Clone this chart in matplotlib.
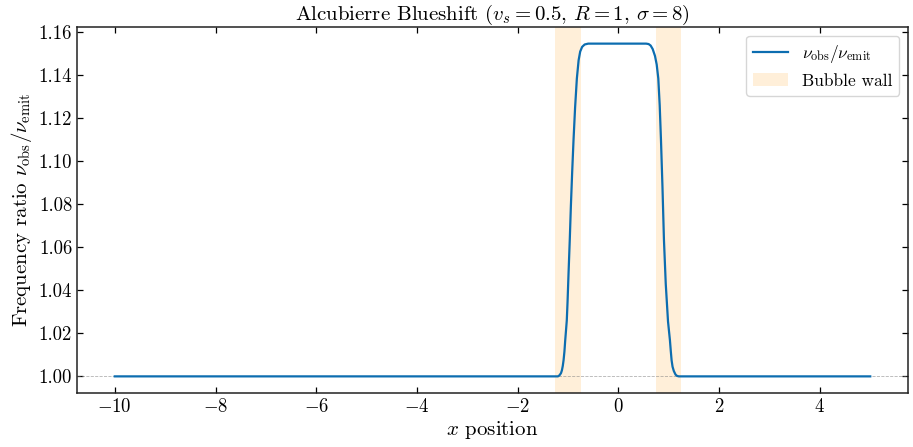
import matplotlib
matplotlib.use("Agg")
import matplotlib.pyplot as plt

plt.rcParams.update({
    "font.family": "serif",
    "font.serif": ["cmr10"],
    "mathtext.fontset": "cm",
    "axes.formatter.use_mathtext": True,
    "axes.unicode_minus": True,
})

# Data
x_pos = [-10.0, -1.30, -1.20, -1.17, -1.14, -1.122, -1.105, -1.089, -1.072, -1.056,
         -1.04, -1.025, -1.01, -0.99, -0.965, -0.944, -0.918, -0.891, -0.86,
         -0.825, -0.79, -0.759, -0.72, -0.67, -0.60, 0.0, 0.55, 0.60, 0.64, 0.68,
         0.726, 0.76, 0.792, 0.82, 0.845, 0.875, 0.904, 0.94, 0.985, 1.023, 1.04,
         1.056, 1.075, 1.10, 1.135, 1.165, 1.20, 1.30, 5.0]
ratio = [1.0, 1.0, 1.0, 1.0005, 1.0015, 1.0028, 1.0048, 1.0075, 1.0115, 1.0168,
         1.0215, 1.0260, 1.0345, 1.0480, 1.0640, 1.0790, 1.0950, 1.1100, 1.1250,
         1.1385, 1.1470, 1.1510, 1.1532, 1.1543, 1.1547, 1.1547, 1.1547, 1.1545,
         1.1538, 1.1522, 1.1490, 1.1450, 1.1385, 1.1260, 1.1100, 1.0880, 1.0636,
         1.0430, 1.0255, 1.0168, 1.0118, 1.0075, 1.0045, 1.0025, 1.0008, 1.0002,
         1.0, 1.0, 1.0]
walls = [(-1.25, -0.75), (0.75, 1.25)]
baseline = 1.0
xticks = [-10, -8, -6, -4, -2, 0, 2, 4]
yticks = [1.00, 1.02, 1.04, 1.06, 1.08, 1.10, 1.12, 1.14, 1.16]

fig = plt.figure(figsize=(9.13, 4.47), dpi=100)
ax = fig.add_axes([77/913, 1 - 393/447, (908 - 77)/913, (393 - 27)/447])

for i, (a, b) in enumerate(walls):
    ax.axvspan(a, b, color="#FF9500", alpha=0.15, lw=0,
               label="Bubble wall" if i == 0 else None)
ax.axhline(baseline, color="gray", ls="--", lw=0.6, alpha=0.6)
ax.plot(x_pos, ratio, color="#0C6DB0", lw=1.6,
        label=r"$\nu_{\rm obs}/\nu_{\rm emit}$")

ax.set_xticks(xticks)
ax.set_yticks(yticks)
ax.yaxis.set_major_formatter(matplotlib.ticker.FormatStrFormatter("%.2f"))
ax.set_xlim(-10.75, 5.75)
ax.set_ylim(0.99227, 1.16243)
ax.tick_params(direction="in", top=True, right=True, length=4, width=0.9,
               labelsize=13.5)
for s in ax.spines.values():
    s.set_linewidth(1.1)
    s.set_color("#222222")

ax.set_title(r"Alcubierre Blueshift ($v_s = 0.5$, $R = 1$, $\sigma = 8$)",
             fontsize=15, pad=5)
ax.set_xlabel(r"$x$ position", fontsize=15, labelpad=2)
ax.set_ylabel(r"Frequency ratio $\nu_{\rm obs}/\nu_{\rm emit}$", fontsize=15,
              labelpad=3)

handles, labels = ax.get_legend_handles_labels()
order = [labels.index(r"$\nu_{\rm obs}/\nu_{\rm emit}$"), labels.index("Bubble wall")]
ax.legend([handles[i] for i in order], [labels[i] for i in order],
          loc="upper right", fontsize=12.5, fancybox=True, framealpha=0.8,
          edgecolor="#cccccc")

fig.savefig("out.png", dpi=100)
